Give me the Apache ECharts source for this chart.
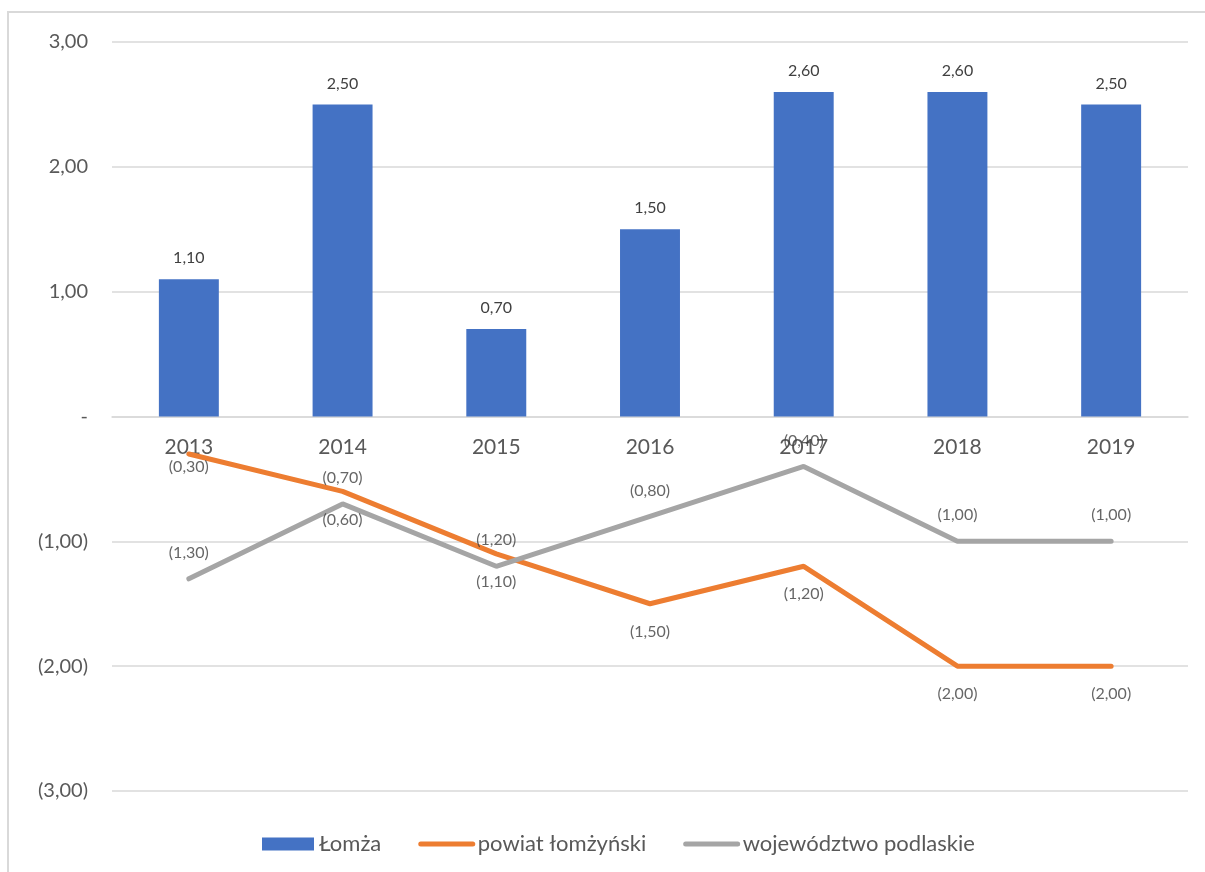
<!DOCTYPE html>
<html><head><meta charset="utf-8">
<script src="https://cdn.jsdelivr.net/npm/echarts@6/dist/echarts.min.js"></script>
<style>html,body{margin:0;padding:0;background:#fff;}#c{width:1205px;height:872px;}</style>
</head><body><div id="c"></div>
<script>
const categories = ['2013','2014','2015','2016','2017','2018','2019'];
const lomza = [1.10, 2.50, 0.70, 1.50, 2.60, 2.60, 2.50];
const powiat = [-0.30, -0.60, -1.10, -1.50, -1.20, -2.00, -2.00];
const wojewodztwo = [-1.30, -0.70, -1.20, -0.80, -0.40, -1.00, -1.00];
const seriesNames = ['Łomża', 'powiat łomżyński', 'województwo podlaskie'];

function fmt(v) {
  if (Math.abs(v) < 1e-9) return '-';
  const s = Math.abs(v).toFixed(2).replace('.', ',');
  return v < 0 ? '(' + s + ')' : s;
}
const FONT = 'Lato';
const GRID_TOP = 42, GRID_BOTTOM = 81, H = 872;
const gridH = H - GRID_TOP - GRID_BOTTOM;
const chart = echarts.init(document.getElementById('c'));
const labelStyle = { show: true, fontSize: 16, color: '#404040', fontFamily: FONT, formatter: p => fmt(p.value) };
chart.setOption({
  animation: false,
  textStyle: { fontFamily: FONT },
  graphic: [{
    type: 'rect', shape: { x: 8, y: 12, width: 1400, height: 1000 },
    style: { fill: 'none', stroke: '#d9d9d9', lineWidth: 2 }, silent: true
  }],
  grid: { left: 112, right: 17, top: GRID_TOP, bottom: GRID_BOTTOM },
  legend: {
    bottom: 12, left: 257,
    itemWidth: 52, itemHeight: 13, itemGap: 37,
    textStyle: { fontSize: 22, color: '#595959', fontFamily: FONT },
    lineStyle: { width: 5, cap: 'round' },
    data: [
      { name: seriesNames[0], icon: 'rect' },
      { name: seriesNames[1], itemStyle: { color: 'transparent', borderWidth: 0, opacity: 0 } },
      { name: seriesNames[2], itemStyle: { color: 'transparent', borderWidth: 0, opacity: 0 } }
    ]
  },
  xAxis: {
    type: 'category', data: categories,
    offset: -gridH / 2,
    axisLine: { onZero: false, lineStyle: { color: '#d9d9d9', width: 1.5 } },
    axisTick: { show: false },
    axisLabel: { fontSize: 21, color: '#595959', margin: 20, fontFamily: FONT }
  },
  yAxis: {
    type: 'value', min: -3, max: 3, interval: 1,
    axisLine: { show: false }, axisTick: { show: false },
    splitLine: { lineStyle: { color: '#d9d9d9', width: 1.5 } },
    axisLabel: { fontSize: 20, color: '#595959', margin: 24, formatter: fmt, fontFamily: FONT }
  },
  series: [
    {
      name: seriesNames[0], type: 'bar', data: lomza, barWidth: '39%',
      itemStyle: { color: '#4472c4' },
      label: Object.assign({}, labelStyle, { position: 'top', distance: 13 })
    },
    {
      name: seriesNames[1], type: 'line', data: powiat,
      symbol: 'none', lineStyle: { color: '#ed7d31', width: 5, cap: 'round' },
      itemStyle: { color: '#ed7d31' }
    },
    {
      name: seriesNames[2], type: 'line', data: wojewodztwo,
      symbol: 'none', lineStyle: { color: '#a5a5a5', width: 5, cap: 'round' },
      itemStyle: { color: '#a5a5a5' }
    },
    {
      name: 'powiatLabels', type: 'scatter', symbolSize: 0, z: 5,
      data: powiat.map((v, i) => i === 0 ? { value: v, label: { distance: 5 } } : v),
      itemStyle: { color: 'transparent' },
      label: Object.assign({}, labelStyle, { position: 'bottom', distance: 20 })
    },
    {
      name: 'wojLabels', type: 'scatter', symbolSize: 0, z: 5,
      data: wojewodztwo,
      itemStyle: { color: 'transparent' },
      label: Object.assign({}, labelStyle, { position: 'top', distance: 18 })
    }
  ]
});
</script></body></html>
